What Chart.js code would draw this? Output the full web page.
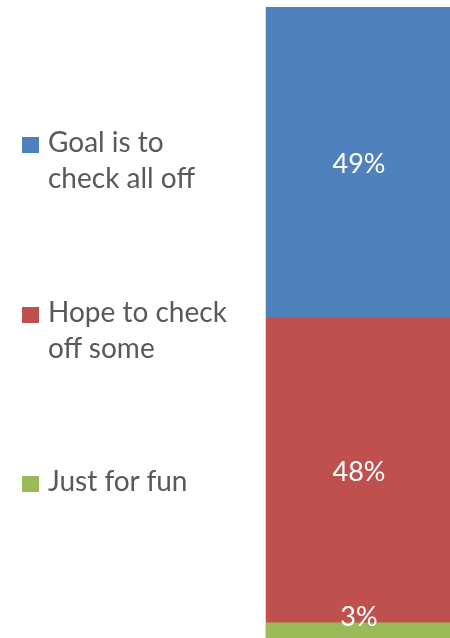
<!DOCTYPE html>
<html>
<head>
<meta charset="utf-8">
<script src="https://cdn.jsdelivr.net/npm/chart.js@4"></script>
<style>
  html, body { margin: 0; padding: 0; background: #fff; }
  body { width: 450px; height: 638px; overflow: hidden; position: relative; font-family: Lato, "Open Sans", sans-serif; }
  #wrap { position: absolute; left: 0; top: 0; width: 450px; height: 645px; }
  .leg { position: absolute; left: 0; color: #595959; font-size: 28px; line-height: 36px; }
  .leg .sw { position: absolute; left: 22px; width: 17px; height: 16px; }
  .leg .tx { position: absolute; left: 48px; white-space: nowrap; }
</style>
</head>
<body>
<div id="wrap"><canvas id="chart" width="450" height="645"></canvas></div>
<div id="legend"></div>
<script>
// data
const categories = ['Goal is to check all off', 'Hope to check off some', 'Just for fun'];
const legendLines = [['Goal is to', 'check all off'], ['Hope to check', 'off some'], ['Just for fun']];
const values = [49, 48, 3];
const colors = ['#4f81bd', '#c0504d', '#9bbb59'];
const legendTops = [123, 293, 462]; // top of first line box

// legend (html)
const legend = document.getElementById('legend');
categories.forEach((c, i) => {
  const d = document.createElement('div');
  d.className = 'leg';
  d.style.top = legendTops[i] + 'px';
  d.innerHTML = `<span class="sw" style="background:${colors[i]};top:14px"></span>` +
    legendLines[i].map((l, k) => `<span class="tx" style="top:${k * 36}px">${l}</span>`).join('');
  legend.appendChild(d);
});

// bar labels + left axis line
const labelPlugin = {
  id: 'labels',
  afterDatasetsDraw(chart) {
    const ctx = chart.ctx;
    const area = chart.chartArea;
    ctx.save();
    ctx.strokeStyle = '#d9d9d9';
    ctx.lineWidth = 1;
    ctx.beginPath();
    ctx.moveTo(area.left - 0.5, area.top - 1);
    ctx.lineTo(area.left - 0.5, area.bottom);
    ctx.stroke();
    ctx.fillStyle = '#ffffff';
    ctx.font = '27px Lato, "Open Sans", sans-serif';
    ctx.textAlign = 'center';
    ctx.textBaseline = 'middle';
    chart.data.datasets.forEach((ds, i) => {
      const bar = chart.getDatasetMeta(i).data[0];
      let y = (bar.y + bar.base) / 2 + 2;
      y = Math.min(y, 617);
      ctx.fillText(ds.data[0] + '%', (area.left + area.right) / 2 + 1, y);
    });
    ctx.restore();
  }
};

// stack: first dataset sits at the bottom, so reverse
const order = [2, 1, 0];
new Chart(document.getElementById('chart'), {
  type: 'bar',
  data: {
    labels: [''],
    datasets: order.map(i => ({
      label: categories[i],
      data: [values[i]],
      backgroundColor: colors[i],
      borderWidth: 0,
      categoryPercentage: 1,
      barPercentage: 1
    }))
  },
  options: {
    responsive: false,
    animation: false,
    layout: { padding: { left: 266, top: 7, right: 0, bottom: 3 } },
    plugins: { legend: { display: false }, tooltip: { enabled: false } },
    scales: {
      x: { stacked: true, display: false },
      y: { stacked: true, display: false, min: 0, max: 100 }
    }
  },
  plugins: [labelPlugin]
});
</script>
</body>
</html>
